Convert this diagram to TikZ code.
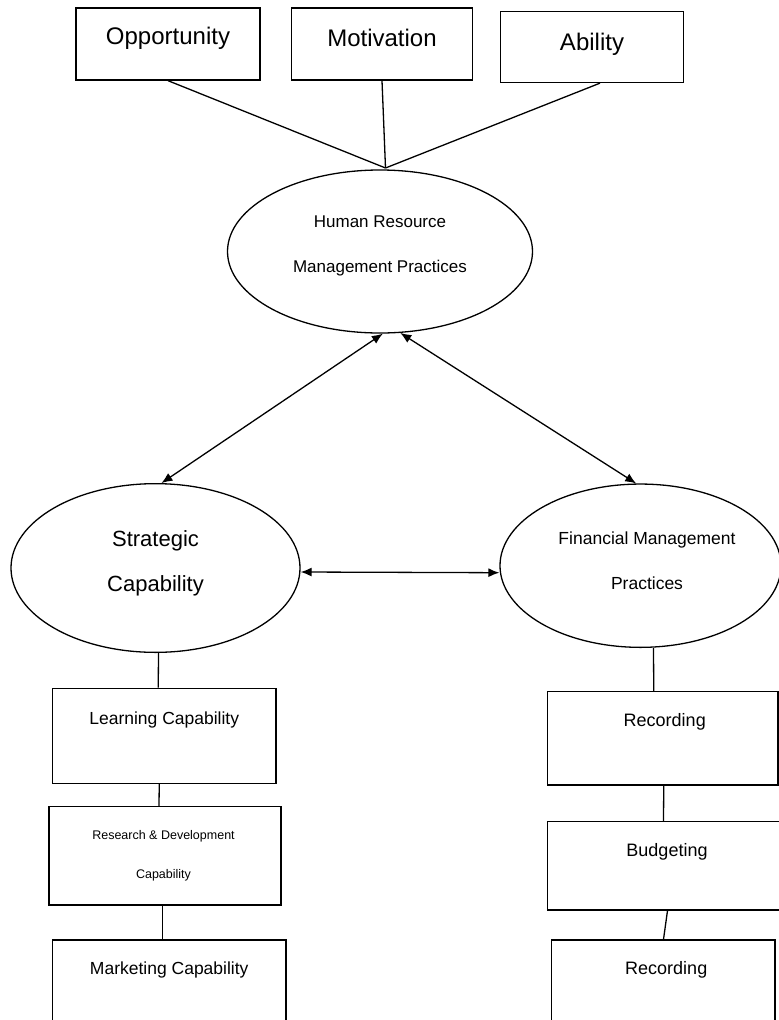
\documentclass[tikz,border=0pt]{standalone}
\usepackage{fontspec}
\setmainfont{Liberation Sans}
\usetikzlibrary{shapes.geometric,arrows.meta}
\newcommand{\fs}[2]{\fontsize{#1}{#2}\selectfont}
\tikzset{
  box/.style={draw, line width=1.3pt, inner sep=0pt},
  oval/.style={draw, ellipse, line width=1.3pt, inner sep=0pt},
  link/.style={line width=1.3pt},
  twoway/.style={link, {Latex[length=11pt,width=9pt]}-{Latex[length=11pt,width=9pt]}},
}

\begin{document}
\begin{tikzpicture}[x=1pt,y=-1pt]
\useasboundingbox (0,0) rectangle (779,1020);

% AMO boxes on top
\node[box, minimum width=184, minimum height=72,
  label={[font=\fs{24}{28}, yshift=6pt]center:Opportunity}] (opp) at (168,44) {};
\node[box, minimum width=181.5, minimum height=72,
  label={[font=\fs{24}{28}, yshift=6pt]center:Motivation}] (mot) at (382,44) {};
\node[box, minimum width=183.5, minimum height=71,
  label={[font=\fs{24}{28}, yshift=3pt]center:Ability}] (abil) at (592,47) {};

% the three constructs
\node[oval, minimum width=305, minimum height=163,
  label={[font=\fs{17}{45}, align=center, yshift=6pt]center:Human Resource\\Management Practices}] (hrm) at (380,251.5) {};
\node[oval, minimum width=289, minimum height=168.7,
  label={[font=\fs{22}{45}, align=center, yshift=5pt]center:Strategic\\Capability}] (strat) at (155.5,568) {};
\node[oval, minimum width=281, minimum height=163.3,
  label={[font=\fs{17.5}{45}, align=center, xshift=6.5pt, yshift=5pt]center:Financial Management\\Practices}] (fin) at (640.5,565.7) {};

% strategic capability dimensions
\node[box, minimum width=223.5, minimum height=95,
  label={[font=\fs{17.5}{21}, yshift=16pt]center:Learning Capability}] (learn) at (164.25,735.8) {};
\node[box, minimum width=232, minimum height=98.3,
  label={[font=\fs{12.5}{38.3}, align=center, xshift=-1.5pt]center:Research \& Development\\Capability}] (rd) at (165,855.8) {};
\node[box, minimum width=233.5, minimum height=95,
  label={[font=\fs{17.5}{21}, yshift=17.5pt]center:Marketing Capability}] (mkt) at (169.25,987.5) {};

% financial management dimensions
\node[box, minimum width=230.5, minimum height=93.3,
  label={[font=\fs{18}{22}, xshift=2pt, yshift=16.6pt]center:Recording}] (rec) at (662.75,738.3) {};
\node[box, minimum width=245, minimum height=88.3,
  label={[font=\fs{18}{22}, xshift=-3pt, yshift=13.5pt]center:Budgeting}] (bud) at (670,865.8) {};
\node[box, minimum width=223.5, minimum height=95,
  label={[font=\fs{18}{22}, xshift=3pt, yshift=17.5pt]center:Recording}] (rectwo) at (663.25,987.5) {};

% AMO lines meet just above the HRM oval
\coordinate (meet) at (385.5,168);
\draw[link] (opp.south) -- (meet);
\draw[link] (mot.south) -- (meet);
\draw[link] ([xshift=8pt]abil.south) -- (meet);

% relations between the constructs
\draw[twoway] (hrm.-88) -- (strat.86);
\draw[twoway] (hrm.-76) -- (fin.93);
\draw[twoway] ([yshift=-4pt]strat.east) -- ([yshift=-7pt]fin.west);

% left column
\draw[link] ([xshift=3pt]strat.south) -- ([xshift=-6pt]learn.north);
\draw[link] ([xshift=-5pt]learn.south) -- ([xshift=-6pt]rd.north);
\draw[link] ([xshift=-2.5pt]rd.south) -- ([xshift=-6.75pt]mkt.north);

% right column
\draw[link] ([xshift=13pt]fin.south) -- ([xshift=-9pt]rec.north);
\draw[link] ([xshift=1pt]rec.south) -- ([xshift=-6.5pt]bud.north);
\draw[link] ([xshift=-2.5pt]bud.south) -- ([xshift=0.25pt]rectwo.north);
\end{tikzpicture}
\end{document}
